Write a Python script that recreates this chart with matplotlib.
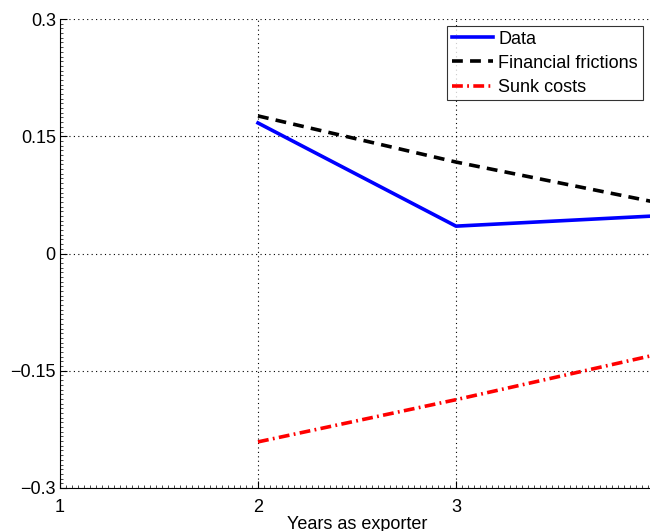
import matplotlib
matplotlib.use("Agg")
import matplotlib.pyplot as plt
from matplotlib.ticker import AutoMinorLocator

plt.rcParams['font.family'] = ['Liberation Sans', 'DejaVu Sans']

years = [2, 3, 4]
data = [0.167, 0.035, 0.048]
fin_frictions = [0.176, 0.117, 0.066]
sunk_costs = [-0.241, -0.187, -0.130]

xticks = [1, 2, 3]
yticks = [-0.3, -0.15, 0, 0.15, 0.3]
ytick_labels = ['\u22120.3', '\u22120.15', '0', '0.15', '0.3']

fig = plt.figure(figsize=(6.5, 5.31), dpi=100)
# axes runs slightly past the right edge of the figure, as in the original
ax = fig.add_axes([60 / 650, 1 - 488 / 531, 594 / 650, 469 / 531])

ax.plot(years, data, color='#0000ff', lw=2.6, label='Data')
ax.plot(years, fin_frictions, color='black', lw=2.6, ls=(0, (3, 2)),
        label='Financial frictions')
ax.plot(years, sunk_costs, color='#ff0000', lw=2.6, ls=(0, (3, 1.2, 0.5, 1.2)),
        label='Sunk costs')

ax.set_xlim(1, 4)
ax.set_ylim(-0.3, 0.3)
ax.set_xticks(xticks)
ax.set_xticklabels([str(t) for t in xticks])
ax.set_yticks(yticks)
ax.set_yticklabels(ytick_labels)
ax.xaxis.set_minor_locator(AutoMinorLocator(33))
ax.yaxis.set_minor_locator(AutoMinorLocator(25))
ax.tick_params(which='major', direction='in', length=5, width=0.8, labelsize=13)
ax.tick_params(which='minor', direction='in', length=2.5, width=0.5)
ax.tick_params(axis='x', pad=8)
ax.tick_params(axis='y', pad=3)
ax.grid(True, which='major', ls=(0, (1, 3)), color='black', lw=0.8)
ax.spines['top'].set_visible(False)
ax.spines['right'].set_visible(False)

ax.set_xlabel('Years as exporter', fontsize=13, labelpad=0)

leg = ax.legend(loc='upper left', bbox_to_anchor=(447 / 650, 1 - 26 / 531),
                bbox_transform=fig.transFigure, fontsize=13, frameon=True,
                fancybox=False, edgecolor='black', handlelength=2.3,
                handletextpad=0.3, borderpad=0.25, labelspacing=0.4,
                borderaxespad=0)
leg.get_frame().set_linewidth(0.8)

fig.savefig('out.png', dpi=100)
